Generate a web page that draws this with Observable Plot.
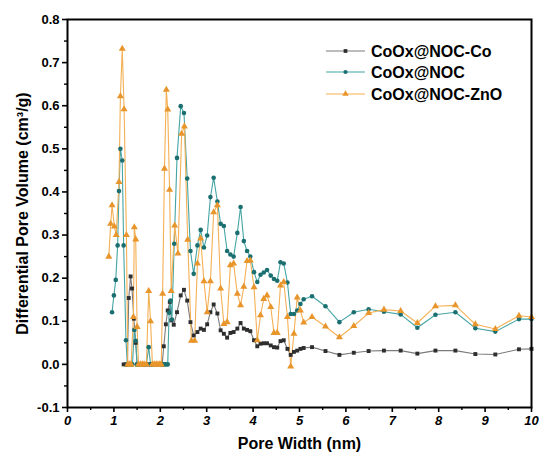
<!DOCTYPE html>
<html>
<head>
<meta charset="utf-8">
<script src="https://cdn.jsdelivr.net/npm/d3@7"></script>
<script src="https://cdn.jsdelivr.net/npm/@observablehq/plot@0.6"></script>
<style>
  html, body { margin: 0; padding: 0; background: #fff; }
  #chart { width: 542px; height: 463px; }
</style>
</head>
<body>
<div id="chart"></div>
<script>
// Series names
const seriesNames = ["CoOx@NOC-Co", "CoOx@NOC", "CoOx@NOC-ZnO"];

// Shared tail grid of pore widths (nm)
const tailX = [2.44,2.51,2.58,2.65,2.72,2.80,2.87,2.94,3.01,3.08,3.15,3.23,3.30,3.37,3.44,3.51,3.58,3.66,3.73,3.80,3.87,3.94,4.02,4.09,4.16,4.23,4.30,4.38,4.45,4.52,4.59,4.66,4.74,4.81,4.88,4.95,5.02,5.09,5.27,5.56,5.86,6.17,6.49,6.82,7.18,7.54,7.93,8.36,8.79,9.22,9.73,10.0];

// CoOx@NOC-Co
const coHeadX = [1.21,1.26,1.29,1.32,1.36,1.39,1.43,1.47,1.50,1.55,1.60,1.65,1.70,1.75,1.80,1.85,1.90,1.95,2.00,2.04,2.075,2.12,2.16,2.205,2.24,2.29,2.36];
const coHeadY = [0,0,0,0.154,0.204,0.176,0.106,0.05,0,0,0,0,0,0,0,0,0,0,0,0,0.042,0.093,0.125,0.145,0.102,0.092,0.121];
const coTailY = [0.160,0.173,0.148,0.098,0.067,0.075,0.083,0.080,0.093,0.121,0.139,0.118,0.079,0.071,0.062,0.073,0.075,0.083,0.096,0.083,0.080,0.077,0.056,0.042,0.048,0.049,0.049,0.044,0.040,0.039,0.054,0.056,0.036,0.022,0.029,0.032,0.036,0.038,0.040,0.031,0.022,0.027,0.031,0.032,0.032,0.025,0.032,0.032,0.024,0.023,0.035,0.036];

// CoOx@NOC
const nocHeadX = [0.96,1.00,1.04,1.08,1.11,1.14,1.18,1.21,1.26,1.29,1.33,1.37,1.40,1.44,1.47,1.50,1.55,1.60,1.65,1.70,1.75,1.79,1.85,1.90,1.95,2.00,2.04,2.08,2.12,2.16,2.19,2.22,2.25,2.30,2.36];
const nocHeadY = [0.121,0.160,0.196,0.276,0.402,0.500,0.473,0.276,0.056,0,0,0,0,0.080,0.055,0,0,0,0,0,0.040,0,0,0,0,0,0,0,0,0,0.120,0.148,0.104,0.280,0.479];
const nocTailY = [0.599,0.583,0.431,0.263,0.210,0.276,0.312,0.271,0.299,0.388,0.433,0.378,0.326,0.321,0.263,0.255,0.250,0.305,0.365,0.286,0.263,0.250,0.214,0.191,0.208,0.213,0.219,0.206,0.198,0.194,0.237,0.234,0.190,0.117,0.117,0.125,0.140,0.151,0.158,0.135,0.098,0.121,0.128,0.122,0.116,0.085,0.115,0.121,0.084,0.076,0.105,0.105];

// CoOx@NOC-ZnO
const znoHeadX = [0.89,0.93,0.96,1.01,1.05,1.11,1.14,1.18,1.22,1.27,1.30,1.34,1.37,1.42,1.44,1.47,1.50,1.53,1.57,1.61,1.65,1.70,1.75,1.79,1.83,1.87,1.91,1.95,1.99,2.02,2.05,2.09,2.13,2.16,2.20,2.235,2.31,2.38];
const znoHeadY = [0.250,0.326,0.369,0.320,0.300,0.423,0.622,0.732,0.592,0.300,0,0,0,0.110,0.318,0.290,0.087,0,0,0,0,0,0.170,0.100,0,0,0,0,0,0,0.164,0.454,0.637,0.591,0.405,0.170,0.322,0.257];
const znoTailX = [2.46,2.52,2.59,2.67,2.74,2.80,2.87,2.94,3.01,3.08,3.15,3.23,3.30,3.37,3.44,3.51,3.58,3.66,3.73,3.80,3.87,3.94,4.02,4.09,4.16,4.23,4.30,4.38,4.45,4.52,4.59,4.66,4.74,4.81,4.88,4.95,5.02,5.09,5.27,5.56,5.86,6.17,6.49,6.82,7.18,7.54,7.93,8.36,8.79,9.22,9.73,10.0];
const znoTailY = [0.535,0.552,0.289,0.055,0.055,0.234,0.292,0.193,0.121,0.193,0.353,0.369,0.176,0.094,0.098,0.230,0.234,0.164,0.137,0.180,0.240,0.241,0.179,0.056,0.114,0.152,0.160,0.133,0.073,0.073,0.183,0.191,0.110,-0.005,0.071,0.155,0.125,0.097,0.110,0.088,0.063,0.089,0.119,0.127,0.124,0.096,0.135,0.137,0.093,0.082,0.113,0.110];

// Tick values
const xTicks = [0,1,2,3,4,5,6,7,8,9,10];
const xMinor = [0.5,1.5,2.5,3.5,4.5,5.5,6.5,7.5,8.5,9.5];
const yTicks = [-0.1,0,0.1,0.2,0.3,0.4,0.5,0.6,0.7,0.8];
const yMinor = [-0.05,0.05,0.15,0.25,0.35,0.45,0.55,0.65,0.75];

// Styles
const lineColors = ["#7a7a7a", "#45a5a5", "#f4b055"];
const dotColors = ["#2e2e2e", "#1b6f70", "#e8952c"];
const symbols = ["square", "circle", "triangle"];
const dotR = [2.2, 2.3, 2.6];

function build(name, xs, ys) { return xs.map((x, i) => ({series: name, x, y: ys[i]})); }
const dataCo = build(seriesNames[0], coHeadX.concat(tailX), coHeadY.concat(coTailY));
const dataNoc = build(seriesNames[1], nocHeadX.concat(tailX), nocHeadY.concat(nocTailY));
const dataZno = build(seriesNames[2], znoHeadX.concat(znoTailX), znoHeadY.concat(znoTailY));
const allData = [dataCo, dataNoc, dataZno];

const font = "'Liberation Sans', Arial, Helvetica, sans-serif";

const seriesMarks = [];
allData.forEach((d, i) => {
  seriesMarks.push(Plot.line(d, {x: "x", y: "y", stroke: lineColors[i], strokeWidth: 1.1}));
});
allData.forEach((d, i) => {
  seriesMarks.push(Plot.dot(d, {x: "x", y: "y", symbol: () => symbols[i], r: dotR[i], fill: dotColors[i], stroke: "none"}));
});

const chart = Plot.plot({
  width: 542,
  height: 463,
  marginLeft: 67,
  marginRight: 11,
  marginTop: 19,
  marginBottom: 56,
  x: {domain: [0, 10]},
  y: {domain: [-0.1, 0.8]},
  symbol: {type: "identity"},
  style: {fontFamily: font, fontWeight: "bold", color: "#000", background: "#fff", overflow: "visible"},
  marks: [
    ...seriesMarks,
    Plot.frame({stroke: "#000", strokeWidth: 2}),
    Plot.axisX({ticks: xTicks, tickSize: 5, tickPadding: 3, strokeWidth: 1.6, tickFormat: d => String(d), fontSize: 13, fontStyle: "italic", fontWeight: "bold", label: null}),
    Plot.axisX({ticks: xMinor, tickSize: 3, strokeWidth: 1.4, tickFormat: () => "", label: null}),
    Plot.axisY({ticks: yTicks, tickSize: 5, tickPadding: 3, strokeWidth: 1.6, tickFormat: d => d.toFixed(1), fontSize: 13, fontWeight: "bold", label: null}),
    Plot.axisY({ticks: yMinor, tickSize: 3, strokeWidth: 1.4, tickFormat: () => "", label: null}),
    Plot.text(["Pore Width (nm)"], {text: d => d, frameAnchor: "bottom", dy: 41, fontSize: 16, fontWeight: "bold", textAnchor: "middle"}),
    Plot.text(["Differential Pore Volume (cm³/g)"], {text: d => d, frameAnchor: "left", dx: -45, rotate: -90, fontSize: 16, fontWeight: "bold", textAnchor: "middle"})
  ]
});

document.getElementById("chart").appendChild(chart);

// Legend (layout overlay)
const svg = d3.select(chart);
const leg = svg.append("g").attr("font-family", font).attr("font-weight", "bold").attr("font-size", 16).attr("text-anchor", "start");
const legY = [51, 72, 94];
const symGen = [d3.symbolSquare, d3.symbolCircle, d3.symbolTriangle];
const symSize = [14, 14, 18];
seriesNames.forEach((name, i) => {
  leg.append("line").attr("x1", 326).attr("x2", 365).attr("y1", legY[i]).attr("y2", legY[i])
    .attr("stroke", lineColors[i]).attr("stroke-width", 1.1);
  leg.append("path").attr("d", d3.symbol(symGen[i], symSize[i])())
    .attr("transform", `translate(345.5,${legY[i]})`).attr("fill", dotColors[i]);
  leg.append("text").attr("x", 371).attr("y", legY[i]).attr("dy", "0.36em")
    .attr("text-anchor", "start").attr("fill", "#000").text(name);
});
</script>
</body>
</html>
